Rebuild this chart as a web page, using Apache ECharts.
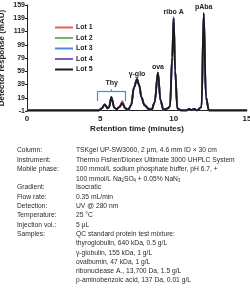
<!DOCTYPE html>
<html>
<head>
<meta charset="utf-8">
<script src="https://cdn.jsdelivr.net/npm/echarts@6/dist/echarts.min.js"></script>
<style>
  html, body { margin: 0; padding: 0; background: #fff; }
  #chart { width: 250px; height: 294px; }
</style>
</head>
<body>
<div id="chart"></div>
<script>
// retention time (minutes) and detector response (mAU)
var times = [0, 4.9, 5.1, 5.3, 5.5, 5.6, 5.75, 5.95, 6.1, 6.3, 6.5, 6.7, 6.9, 7.1, 7.3, 7.5, 7.65, 7.8, 8.0, 8.3, 8.5, 8.7, 8.93, 9.1, 9.3, 9.6, 9.75, 9.9, 10.0, 10.1, 10.25, 10.5, 10.9, 11.05, 11.2, 11.4, 11.6, 11.9, 12.05, 12.2, 12.4, 15];
var lot1 = [0, 0, 3, 9, 3, 5, 20, 4, 2, 6, 14, 4, 1, 8, 35, 47, 38, 20, 8, 2, 1, 12, 57, 15, 1, 3, 6, 80, 139, 60, 3, 0, 0, 2, 0.5, 2, 0, 5, 146, 20, 0, 0];
var lot2 = [0, 0, 3, 9, 3, 5, 20, 4, 2, 5, 11, 3, 1, 8, 35, 47, 38, 20, 9, 3, 2, 12, 57, 15, 1, 3, 6, 80, 141, 60, 3, 0.5, 0.5, 2, 0.5, 2, 0.5, 5, 145, 20, 0.5, 0.5];
var lot3 = [0, 0, 3, 9, 3, 5, 20, 4, 2, 5, 11, 3, 1, 8, 35, 47, 38, 20, 8, 2, 1, 12, 57, 15, 1, 3, 6, 80, 140, 60, 3, 0, 0, 2, 0.5, 2, 0, 5, 146, 20, 0, 0];
var lot4 = [0, 0, 3, 9, 3, 5, 20, 4, 2, 5, 11, 3, 1, 8, 35, 47, 38, 20, 8, 2, 1, 12, 57, 15, 1, 3, 6, 80, 139, 60, 3, 0, 0, 2, 0.5, 2, 0, 5, 147, 20, 0, 0];
var lot5 = [0, 0, 3, 9, 3, 5, 20, 4, 2, 5, 11, 3, 1, 8, 35, 47, 38, 20, 8, 2, 1, 12, 57, 15, 1, 3, 6, 80, 139, 60, 3, 0, 0, 2, 0.5, 2, 0, 5, 147, 20, 0, 0];

var lotNames = ['Lot 1', 'Lot 2', 'Lot 3', 'Lot 4', 'Lot 5'];
var lotColors = ['#ef5a55', '#68bd5b', '#4b8fd0', '#8757c6', '#1a1a1a'];

var peakNames = ['γ-glo', 'ova', 'ribo A', 'pAba'];
var peakTimes = [7.5, 8.93, 10.0, 12.05];
var peakValues = [47, 57, 140, 147];

// bracket over the Thy group
var thyStart = 4.82, thyEnd = 6.72, thyMid = 5.77, thyLow = 14, thyTop = 29;

var yTicks = [-1, 19, 39, 59, 79, 99, 119, 139, 159];
var xTicks = [0, 5, 10, 15];

// conditions table under the chart
var condLabels = ['Column:', 'Instrument:', 'Mobile phase:', '', 'Gradient:', 'Flow rate:', 'Detection:', 'Temperature:', 'Injection vol.:', 'Samples:', '', '', '', '', ''];
var condValues = [
  'TSKgel UP-SW3000, 2 μm, 4.6 mm ID × 30 cm',
  'Thermo Fisher/Dionex Ultimate 3000 UHPLC System',
  '100 mmol/L sodium phosphate buffer, pH 6.7, +',
  '100 mmol/L Na{s|2}SO{s|4} + 0.05% NaN{s|3}',
  'Isocratic',
  '0.35 mL/min',
  'UV @ 280 nm',
  '25 °C',
  '5 μL',
  'QC standard protein test mixture:',
  'thyroglobulin, 640 kDa, 0.5 g/L',
  'γ-globulin, 155 kDa, 1 g/L',
  'ovalbumin, 47 kDa, 1 g/L',
  'ribonuclease A., 13,700 Da, 1.5 g/L',
  'p-aminobenzoic acid, 137 Da, 0.01 g/L'
];

var font = '"Liberation Sans", Arial, sans-serif';

var chart = echarts.init(document.getElementById('chart'));

var series = lotNames.map(function (name, i) {
  var ys = [lot1, lot2, lot3, lot4, lot5][i];
  return {
    name: name,
    type: 'line',
    data: times.map(function (t, j) { return [t, ys[j]]; }),
    smooth: 0.35,
    smoothMonotone: 'x',
    symbol: 'none',
    z: 2 + i,
    lineStyle: { color: lotColors[i], width: 1.8 },
    itemStyle: { color: lotColors[i] }
  };
});

// peak labels and Thy bracket hang off the last series
series[4].markPoint = {
  symbol: 'circle',
  symbolSize: 0,
  label: {
    show: true, position: 'top', distance: 2,
    fontFamily: font, fontSize: 7, fontWeight: 'bold', color: '#222',
    formatter: function (p) { return p.name; }
  },
  data: peakNames.map(function (n, i) {
    return { name: n, coord: [peakTimes[i], peakValues[i]] };
  }).concat([{ name: 'Thy', coord: [thyMid, thyTop + 4] }])
};
series[4].markLine = {
  silent: true,
  symbol: 'none',
  label: { show: false },
  lineStyle: { color: '#3f93cf', width: 1.2, type: 'solid' },
  data: [
    [{ coord: [thyStart, thyTop] }, { coord: [thyEnd, thyTop] }],
    [{ coord: [thyStart, thyLow] }, { coord: [thyStart, thyTop] }],
    [{ coord: [thyEnd, thyLow] }, { coord: [thyEnd, thyTop] }],
    [{ coord: [thyMid, thyTop] }, { coord: [thyMid, thyTop + 3] }]
  ]
};

// the original uses a condensed face; squeeze the regular one horizontally
var squeeze = 0.84;
var graphics = [];
condLabels.forEach(function (lab, i) {
  var y = 146 + i * 9.3;
  if (lab) {
    graphics.push({ type: 'text', x: 17, y: y, scaleX: squeeze,
      style: { text: lab, fontFamily: font, fontSize: 8, fill: '#2a2a2a' } });
  }
  graphics.push({ type: 'text', x: 76, y: y, scaleX: squeeze,
    style: { text: condValues[i], fontFamily: font, fontSize: 8, fill: '#2a2a2a',
      rich: { s: { fontFamily: font, fontSize: 5, fill: '#2a2a2a', verticalAlign: 'bottom', padding: [4, 0, 0, 0] } } } });
});

chart.setOption({
  animation: false,
  grid: { left: 27, right: 3, top: 5, bottom: 183, outerBoundsMode: 'none' },
  legend: {
    orient: 'vertical', left: 50, top: 19,
    itemWidth: 18, itemHeight: 2, itemGap: 3.5,
    icon: 'rect',
    textStyle: { fontFamily: font, fontSize: 7, fontWeight: 'bold', color: '#222', padding: [0, 0, 0, -2] },
    data: lotNames
  },
  xAxis: {
    type: 'value', min: 0, max: 15, interval: 5,
    name: 'Retention time (minutes)', nameLocation: 'middle', nameGap: 14, nameMoveOverlap: false,
    nameTextStyle: { fontFamily: font, fontSize: 8, fontWeight: 'bold', color: '#222' },
    axisLine: { lineStyle: { color: '#222', width: 1 } },
    axisTick: { show: false },
    axisLabel: { fontFamily: font, fontSize: 8, fontWeight: 'bold', color: '#222', margin: 4,
      customValues: xTicks },
    splitLine: { show: false }
  },
  yAxis: {
    type: 'value', min: -1, max: 159, interval: 20,
    name: 'Detector response (mAU)', nameLocation: 'middle', nameGap: 21, nameMoveOverlap: false,
    nameTextStyle: { fontFamily: font, fontSize: 8, fontWeight: 'bold', color: '#222' },
    axisLine: { show: true, lineStyle: { color: '#222', width: 1 } },
    axisTick: { show: true, length: 2, lineStyle: { color: '#222' } },
    axisLabel: { fontFamily: font, fontSize: 7, fontWeight: 'bold', color: '#222', margin: 2,
      customValues: yTicks },
    splitLine: { show: false }
  },
  graphic: graphics,
  series: series
});
</script>
</body>
</html>
